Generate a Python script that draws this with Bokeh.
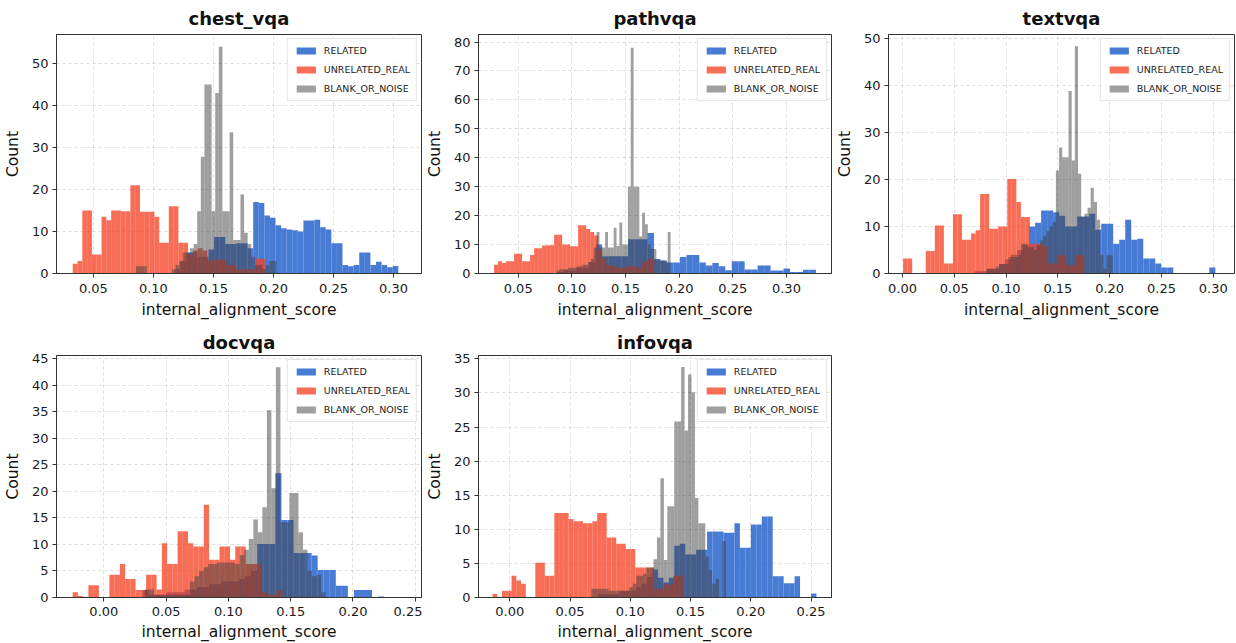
import numpy as np
from bokeh.plotting import figure
from bokeh.layouts import column, row
from bokeh.models import Range1d, FixedTicker, Legend, LegendItem, PrintfTickFormatter
from bokeh.embed import file_html
from bokeh.resources import INLINE

# ---------------- data (histogram counts, 40 bins per series) ----------------
series_names = ["RELATED", "UNRELATED_REAL", "BLANK_OR_NOISE"]

chest_related_range = (0.118, 0.304)
chest_related = [1, 3, 5, 5, 4, 4, 5.7, 8.7, 8.7, 7, 7, 7.2, 7.2, 6, 17, 16.8, 13.8, 13.3, 11.5, 10.8,
                 10.5, 10.3, 10, 12.6, 12.6, 12.8, 11, 10.5, 7.2, 7.2, 2, 1.7, 2, 5, 5, 2, 2.8, 2, 1.5, 1.8]
chest_unrelated_range = (0.0328, 0.1929)
chest_unrelated = [2.3, 3, 15, 15, 4.5, 4.5, 13.5, 12.7, 15, 15, 14.8, 14.8, 21, 21, 14.7, 14.7, 14.7, 13.5, 7.3, 7.3,
                   16, 16, 7.3, 7.3, 4.5, 5.5, 6, 5.5, 3, 3.3, 3.3, 3.3, 2, 2, 1, 1, 1, 1, 3.5, 3.5]
chest_blank_range = (0.0855, 0.2055)
chest_blank = [1.7, 1.7, 1.7, 0, 0, 0, 0, 0, 0, 0, 1, 2, 3, 5, 5, 6, 7, 14.8, 27.8, 45,
               45, 14.8, 43, 54, 14.8, 14.8, 33.6, 8, 8, 18.8, 9.7, 7, 4, 2, 2, 1, 2, 3, 3, 0]

path_related_range = (0.086, 0.3275)
path_related = [0.5, 1, 1, 2, 2, 4, 10, 6, 6, 6, 6, 11.8, 11.8, 11.8, 14, 5, 4.5, 3.8, 3.8, 5.7,
                6.4, 6.4, 3.8, 2.8, 3.6, 2.5, 1.1, 4.2, 4.2, 1.4, 1.4, 2.8, 2.8, 1, 1, 1.7, 0.5, 0.5, 1.3, 1.3]
path_unrelated_range = (0.0275, 0.1768)
path_unrelated = [3, 4.2, 3.6, 4.2, 4.2, 6.8, 6.8, 4.2, 4.2, 6.4, 8.7, 8.7, 9.7, 9.8, 9.8, 13.4, 13.4, 10, 10, 9.4,
                  9.4, 16.7, 16.7, 15.4, 14.3, 13.1, 8, 5, 3, 2.5, 2.5, 2, 2, 2.5, 2.5, 2.5, 2, 4, 5, 5]
path_blank_range = (0.086, 0.192)
path_blank = [1, 1.5, 1.5, 1.5, 2, 2, 2, 2.5, 2.5, 3, 3, 4, 5, 9, 14.3, 9, 9, 14.3, 9, 9,
              15.8, 9.5, 17.6, 10, 10, 30, 78, 30, 30, 12.8, 21, 17, 10, 8.5, 8.5, 4.5, 4.5, 4.5, 4, 14.3]

text_related_range = (0.07, 0.302)
text_related = [0.5, 0.5, 1, 1, 2, 3, 4, 5, 6, 10, 10.8, 13.4, 13.4, 13, 12.3, 10, 10, 12.1, 12.1, 12.7,
                9.3, 10.6, 10.6, 6.3, 7.2, 11.4, 7.2, 7.4, 3.2, 3.2, 2.1, 1.3, 1.3, 0, 0, 0, 0, 0, 0, 1.3]
text_unrelated_range = (0.0006, 0.1755)
text_unrelated = [3.2, 3.2, 0, 0, 0, 4.8, 4.8, 10.2, 10.2, 2.1, 2.1, 12.6, 12.6, 7.2, 7.2, 8.5, 9.2, 16.9, 16.9, 9.5,
                  9.5, 10, 10, 20.1, 20.1, 15.2, 12, 12, 6.3, 6.3, 6.3, 5.8, 2.1, 2.1, 3.9, 3.9, 1.8, 1.8, 3.9, 3.9]
text_blank_range = (0.081, 0.203)
text_blank = [1, 1, 1, 1.5, 2, 2, 2, 3.5, 3.5, 3.5, 4, 6.3, 6.3, 5.6, 5.6, 5, 6, 7, 8, 9,
              10, 11, 21.9, 26.8, 24.7, 24.7, 38.8, 24, 48.3, 21.2, 12, 12.7, 14, 18.2, 15.2, 11.4, 4, 1, 3.9, 3.9]

doc_related_range = (0.031, 0.225)
doc_related = [1.4, 0.5, 0.5, 0.5, 1, 1, 1, 1.5, 1.5, 2, 2, 2.5, 2.5, 3, 3, 3, 3.5, 4, 5, 10.1,
               10.1, 10.1, 23.4, 14.6, 14.6, 8.4, 8.4, 8.4, 7.9, 5.2, 5.2, 5.2, 2.2, 2.2, 0, 1.4, 1.4, 1.4, 0, 0.2]
doc_unrelated_range = (-0.025, 0.1434)
doc_unrelated = [1, 0.3, 0, 2.3, 2.3, 0, 0, 4.3, 4.3, 6.3, 3.5, 3.5, 1.4, 1.4, 4.3, 4.3, 1.5, 10.2, 6.3, 6.3,
                 12.5, 12.5, 10.2, 9.6, 9.6, 17.5, 7.1, 7.1, 9.6, 9.6, 7.1, 9.6, 9.6, 6.3, 6.3, 6.3, 1, 0.5, 0.5, 1.4]
doc_blank_range = (0.033, 0.178)
doc_blank = [1.5, 1.5, 0.5, 0.5, 0.5, 0.5, 0.5, 0.5, 0.5, 0.5, 3, 4, 5, 5.7, 6.3, 6.3, 6.6, 6.6, 6.6, 6.6,
             6.3, 8, 9, 11, 14.7, 12.3, 17, 35.3, 20.6, 43.4, 14.2, 14.2, 19.7, 19.7, 12.3, 9, 5, 4, 4.3, 1]

info_related_range = (0.073, 0.2545)
info_related = [0.5, 0.5, 0.5, 0.5, 1, 1, 1, 1.5, 2, 3, 4.1, 2.9, 2.2, 2.9, 7.6, 7.9, 6.3, 6.3, 7, 7,
                9.7, 9.7, 9.7, 9.5, 9.5, 10.9, 7.3, 7.3, 10.7, 10.7, 11.9, 11.9, 3.1, 3.1, 2.1, 2.1, 3.1, 0, 0, 0.6]
info_unrelated_range = (-0.0144, 0.1436)
info_unrelated = [0.5, 0, 1, 1, 3.2, 2.5, 2, 0, 0, 5.1, 5.1, 3.2, 3.2, 12.4, 12.4, 12.4, 11.5, 11.2, 11.2, 10.9,
                  10.9, 11.2, 12.4, 12.4, 8.8, 8.8, 7.9, 7.9, 7.1, 7.1, 4.4, 4.4, 4.4, 4.4, 1.3, 1.3, 1.9, 1.9, 3.2, 3.2]
info_blank_range = (0.0677, 0.1823)
info_blank = [1.3, 1.3, 1.3, 1.3, 1.3, 1, 1, 1, 1, 1, 1, 1.5, 2, 3.2, 3.2, 3.5, 4.4, 4.4, 5.6, 8.8,
              17.5, 5.5, 13.4, 13.4, 25.8, 25.8, 33.8, 24.5, 32.7, 30.1, 14.6, 10.9, 10.9, 6, 4, 2, 2.7, 0, 8.3, 0]

# tick values
chest_xticks = [0.05, 0.10, 0.15, 0.20, 0.25, 0.30]
chest_yticks = [0, 10, 20, 30, 40, 50]
path_xticks = [0.05, 0.10, 0.15, 0.20, 0.25, 0.30]
path_yticks = [0, 10, 20, 30, 40, 50, 60, 70, 80]
text_xticks = [0.00, 0.05, 0.10, 0.15, 0.20, 0.25, 0.30]
text_yticks = [0, 10, 20, 30, 40, 50]
doc_xticks = [0.00, 0.05, 0.10, 0.15, 0.20, 0.25]
doc_yticks = [0, 5, 10, 15, 20, 25, 30, 35, 40, 45]
info_xticks = [0.00, 0.05, 0.10, 0.15, 0.20, 0.25]
info_yticks = [0, 5, 10, 15, 20, 25, 30, 35]

# ---------------- styling ----------------
FONT = "DejaVu Sans"
COLORS = ["#2864cd", "#f53c1e", "#404040"]
ALPHAS = [0.85, 0.75, 0.5]


def panel(title, hists, xr, yr, xticks, yticks, width, height, lb, rb, tb, bb,
          title_standoff, xtick_standoff, xlab_standoff):
    p = figure(width=width, height=height, output_backend="svg", toolbar_location=None,
               x_range=Range1d(*xr), y_range=Range1d(*yr),
               min_border_left=lb, min_border_right=rb, min_border_top=tb, min_border_bottom=bb)
    p.background_fill_color = "white"
    p.border_fill_color = "white"
    p.outline_line_color = "#333333"
    p.outline_line_width = 1

    p.title.text = title
    p.title.text_font = FONT
    p.title.text_font_style = "bold"
    p.title.text_font_size = "18px"
    p.title.text_color = "#111111"
    p.title.align = "center"
    p.title.standoff = title_standoff

    items = []
    for (rng, counts), name, col, a in zip(hists, series_names, COLORS, ALPHAS):
        edges = np.linspace(rng[0], rng[1], len(counts) + 1)
        r = p.quad(left=edges[:-1], right=edges[1:], bottom=0, top=np.array(counts, dtype=float),
                   fill_color=col, fill_alpha=a, line_color=None)
        items.append(LegendItem(label=name, renderers=[r]))

    leg = Legend(items=items, location="top_right")
    leg.label_text_font = FONT
    leg.label_text_font_size = "9.5px"
    leg.label_text_color = "#222222"
    leg.glyph_width = 24
    leg.glyph_height = 9
    leg.label_height = 11
    leg.label_standoff = 6
    leg.spacing = 8
    leg.padding = 6
    leg.margin = 4
    leg.border_line_color = "#cccccc"
    leg.border_line_width = 1
    leg.background_fill_alpha = 0.85
    p.add_layout(leg)

    p.xaxis.ticker = FixedTicker(ticks=xticks)
    p.yaxis.ticker = FixedTicker(ticks=yticks)
    p.xaxis.formatter = PrintfTickFormatter(format="%.2f")
    p.yaxis.formatter = PrintfTickFormatter(format="%d")
    p.xaxis.axis_label = "internal_alignment_score"
    p.yaxis.axis_label = "Count"
    for ax in (p.xaxis, p.yaxis):
        ax.axis_label_text_font = FONT
        ax.axis_label_text_font_size = "15.5px"
        ax.axis_label_text_font_style = "normal"
        ax.axis_label_text_color = "#111111"
        ax.major_label_text_font = FONT
        ax.major_label_text_font_size = "13px"
        ax.major_label_text_color = "#1a1a1a"
        ax.axis_line_color = "#333333"
        ax.major_tick_line_color = "#333333"
        ax.major_tick_out = 4
        ax.major_tick_in = 0
        ax.minor_tick_line_color = None
    p.xaxis.major_label_standoff = xtick_standoff
    p.xaxis.axis_label_standoff = xlab_standoff
    p.yaxis.major_label_standoff = 4
    p.yaxis.axis_label_standoff = 7

    for g in (p.xgrid, p.ygrid):
        g.grid_line_color = "#b8b8b8"
        g.grid_line_alpha = 0.6
        g.grid_line_dash = "3 3"
        g.grid_line_width = 0.8
    return p


f1 = panel("chest_vqa",
           [(chest_related_range, chest_related), (chest_unrelated_range, chest_unrelated), (chest_blank_range, chest_blank)],
           (0.0193, 0.3233), (0, 56.9), chest_xticks, chest_yticks, 422, 326, 55, 1, 33, 53, 11, 6, 5)
f2 = panel("pathvqa",
           [(path_related_range, path_related), (path_unrelated_range, path_unrelated), (path_blank_range, path_blank)],
           (0.013, 0.342), (0, 82.6), path_xticks, path_yticks, 410, 326, 55, 1, 33, 53, 11, 6, 5)
f3 = panel("textvqa",
           [(text_related_range, text_related), (text_unrelated_range, text_unrelated), (text_blank_range, text_blank)],
           (-0.0135, 0.3205), (0, 50.8), text_xticks, text_yticks, 404, 326, 55, 2, 33, 53, 11, 6, 5)
f4 = panel("docvqa",
           [(doc_related_range, doc_related), (doc_unrelated_range, doc_unrelated), (doc_blank_range, doc_blank)],
           (-0.038, 0.255), (0, 45.6), doc_xticks, doc_yticks, 422, 317, 55, 1, 29, 45, 6, 5, 4)
f5 = panel("infovqa",
           [(info_related_range, info_related), (info_unrelated_range, info_unrelated), (info_blank_range, info_blank)],
           (-0.026, 0.267), (0, 35.5), info_xticks, info_yticks, 410, 317, 55, 1, 29, 45, 6, 5, 4)

layout = column(row(f1, f2, f3), row(f4, f5))
open("out.html", "w").write(file_html(layout, INLINE))
